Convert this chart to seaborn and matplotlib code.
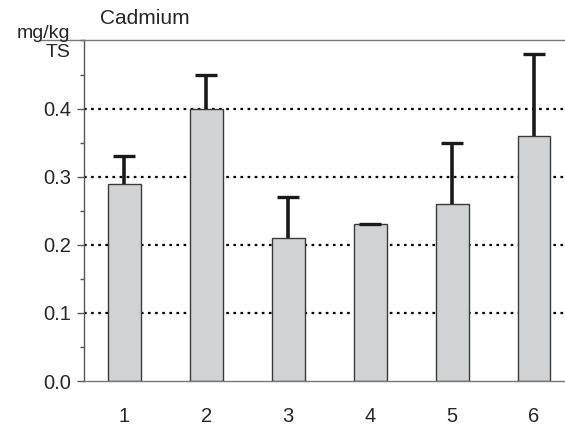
import matplotlib
matplotlib.use("Agg")
import matplotlib.pyplot as plt
import seaborn as sns
import pandas as pd
import numpy as np
from matplotlib.ticker import MultipleLocator

# Cadmium content per sample group (mg/kg dry matter)
groups = ["1", "2", "3", "4", "5", "6"]
means = [0.29, 0.40, 0.21, 0.23, 0.26, 0.36]
upper = [0.33, 0.45, 0.27, 0.231, 0.35, 0.48]
yticks = [0.0, 0.1, 0.2, 0.3, 0.4]
ytick_labels = ["0.0", "0.1", "0.2", "0.3", "0.4"]

sns.set_style("white")
plt.rcParams["font.family"] = ["Liberation Sans", "DejaVu Sans"]

df = pd.DataFrame({"group": groups, "cadmium": means})

fig = plt.figure(figsize=(5.65, 4.28), dpi=100)
ax = fig.add_axes([0.1478, 0.1098, 0.8699, 0.7956])

spine_col = "#555555"

# dotted reference lines behind the bars
for v in [0.1, 0.2, 0.3, 0.4]:
    ax.axhline(v, color="black", lw=1.6, linestyle=(0, (1.2, 2.0)), zorder=0)

sns.barplot(data=df, x="group", y="cadmium", order=groups, color="#d1d2d4",
            width=0.4, edgecolor="#3a3a3a", linewidth=1.0, saturation=1,
            errorbar=None, ax=ax, zorder=2)

# upper error bars only: stem from bar top, cap at the upper limit
xpos = np.arange(len(groups))
ax.vlines(xpos, means, upper, colors="#1a1a1a", lw=2.6, zorder=3)
ax.plot(xpos, upper, ls="none", marker="_", markersize=16, mew=2.4,
        color="#1a1a1a", zorder=4)

ax.set_ylim(0, 0.5)
ax.set_xlim(-0.5, len(groups) - 0.5)
ax.set_yticks(yticks)
ax.set_yticklabels(ytick_labels)
ax.yaxis.set_minor_locator(MultipleLocator(0.05))
ax.tick_params(axis="y", which="major", length=5, width=1, color=spine_col,
               labelsize=14.5, pad=4, left=True)
ax.tick_params(axis="y", which="minor", length=3, width=1, color=spine_col, left=True)
ax.tick_params(axis="x", length=0, labelsize=14.5, pad=19)
ax.set_xlabel("")
ax.set_ylabel("")

for side in ["left", "top", "bottom"]:
    ax.spines[side].set_visible(True)
    ax.spines[side].set_color(spine_col)
    ax.spines[side].set_linewidth(1.0)
ax.spines["right"].set_visible(False)
ax.spines["top"].set_color("#777777")
ax.spines["bottom"].set_color("#777777")

# small tick at the top of the axis
ax.plot([-0.09, 0], [0.5, 0.5], transform=ax.get_yaxis_transform(),
        color="#777777", lw=1.0, clip_on=False)

fig.text(100 / 565, 1 - 19 / 428, "Cadmium", fontsize=15, ha="left", va="center")
fig.text(70 / 565, 1 - 43 / 428, "mg/kg\nTS", fontsize=14, ha="right", va="center",
         multialignment="right", linespacing=1.2)

fig.savefig("out.png", dpi=100)
